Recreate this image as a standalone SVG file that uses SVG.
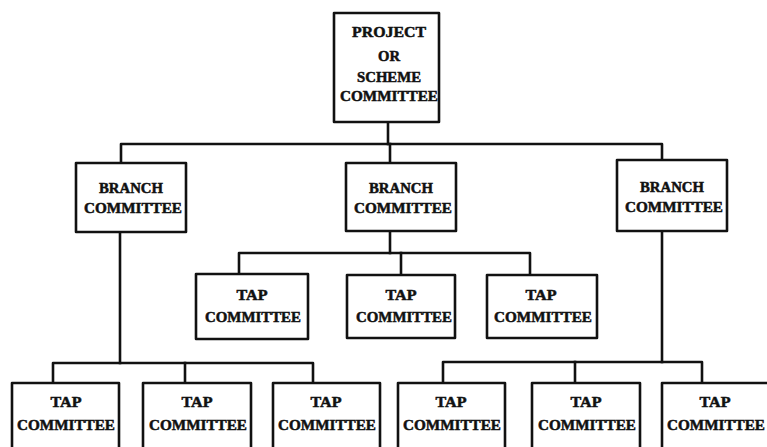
<svg xmlns="http://www.w3.org/2000/svg" width="767" height="447" viewBox="0 0 767 447">
  <style>
    .box { fill: #fff; stroke: #111; stroke-width: 2.6; stroke-linejoin: round; }
    .wire { fill: none; stroke: #111; stroke-width: 2.6; stroke-linejoin: round; stroke-linecap: square; }
    text { font-family: "Liberation Serif", "DejaVu Serif", serif; font-weight: bold; font-size: 15px; fill: #111; stroke: #111; stroke-width: 0.5; text-anchor: middle; }
  </style>
  <rect width="767" height="447" fill="#fff"/>

  <g id="connectors">
    <!-- top committee to branch level -->
    <path class="wire" d="M388 122 V144"/>
    <path class="wire" d="M121 163 V144 H662 V160"/>
    <path class="wire" d="M390 144 V163"/>
    <!-- centre branch to its tap committees -->
    <path class="wire" d="M390 231 V253"/>
    <path class="wire" d="M239 274 V253 H530 V275"/>
    <path class="wire" d="M401 253 V275"/>
    <!-- left branch to bottom-left tap committees -->
    <path class="wire" d="M120 232 V363"/>
    <path class="wire" d="M53 383 V363 H313 V383"/>
    <path class="wire" d="M185 363 V383"/>
    <!-- right branch to bottom-right tap committees -->
    <path class="wire" d="M662 231 V362"/>
    <path class="wire" d="M443 383 V362 H702 V383"/>
    <path class="wire" d="M575 362 V383"/>
  </g>

  <g id="project-committee">
    <rect class="box" x="334" y="13" width="105" height="109"/>
    <text x="389" y="37" textLength="74" lengthAdjust="spacingAndGlyphs">PROJECT</text>
    <text x="389" y="61" textLength="22" lengthAdjust="spacingAndGlyphs">OR</text>
    <text x="389" y="82" textLength="64" lengthAdjust="spacingAndGlyphs">SCHEME</text>
    <text x="389" y="101" textLength="98" lengthAdjust="spacingAndGlyphs">COMMITTEE</text>
  </g>

  <g id="branch-left">
    <rect class="box" x="76" y="163" width="110" height="69"/>
    <text x="131" y="193" textLength="64" lengthAdjust="spacingAndGlyphs">BRANCH</text>
    <text x="133" y="213" textLength="98" lengthAdjust="spacingAndGlyphs">COMMITTEE</text>
  </g>
  <g id="branch-centre">
    <rect class="box" x="346" y="163" width="110" height="68"/>
    <text x="401" y="193" textLength="64" lengthAdjust="spacingAndGlyphs">BRANCH</text>
    <text x="403" y="213" textLength="98" lengthAdjust="spacingAndGlyphs">COMMITTEE</text>
  </g>
  <g id="branch-right">
    <rect class="box" x="617" y="160" width="110" height="71"/>
    <text x="672" y="192" textLength="64" lengthAdjust="spacingAndGlyphs">BRANCH</text>
    <text x="674" y="212" textLength="98" lengthAdjust="spacingAndGlyphs">COMMITTEE</text>
  </g>

  <g id="tap-mid-1">
    <rect class="box" x="196" y="274" width="112" height="65"/>
    <text x="252" y="300" textLength="31" lengthAdjust="spacingAndGlyphs">TAP</text>
    <text x="253" y="322" textLength="96" lengthAdjust="spacingAndGlyphs">COMMITTEE</text>
  </g>
  <g id="tap-mid-2">
    <rect class="box" x="347" y="275" width="108" height="63"/>
    <text x="401" y="300" textLength="31" lengthAdjust="spacingAndGlyphs">TAP</text>
    <text x="404" y="322" textLength="96" lengthAdjust="spacingAndGlyphs">COMMITTEE</text>
  </g>
  <g id="tap-mid-3">
    <rect class="box" x="487" y="275" width="110" height="63"/>
    <text x="541" y="300" textLength="31" lengthAdjust="spacingAndGlyphs">TAP</text>
    <text x="543" y="322" textLength="98" lengthAdjust="spacingAndGlyphs">COMMITTEE</text>
  </g>

  <g id="tap-low-1">
    <rect class="box" x="12" y="383" width="107" height="80"/>
    <text x="66" y="407" textLength="31" lengthAdjust="spacingAndGlyphs">TAP</text>
    <text x="66" y="430" textLength="98" lengthAdjust="spacingAndGlyphs">COMMITTEE</text>
  </g>
  <g id="tap-low-2">
    <rect class="box" x="143" y="383" width="108" height="80"/>
    <text x="197" y="407" textLength="31" lengthAdjust="spacingAndGlyphs">TAP</text>
    <text x="198" y="430" textLength="98" lengthAdjust="spacingAndGlyphs">COMMITTEE</text>
  </g>
  <g id="tap-low-3">
    <rect class="box" x="273" y="383" width="107" height="80"/>
    <text x="326" y="407" textLength="31" lengthAdjust="spacingAndGlyphs">TAP</text>
    <text x="327" y="430" textLength="98" lengthAdjust="spacingAndGlyphs">COMMITTEE</text>
  </g>
  <g id="tap-low-4">
    <rect class="box" x="398" y="383" width="107" height="80"/>
    <text x="451" y="407" textLength="31" lengthAdjust="spacingAndGlyphs">TAP</text>
    <text x="452" y="430" textLength="98" lengthAdjust="spacingAndGlyphs">COMMITTEE</text>
  </g>
  <g id="tap-low-5">
    <rect class="box" x="532" y="383" width="108" height="80"/>
    <text x="586" y="407" textLength="31" lengthAdjust="spacingAndGlyphs">TAP</text>
    <text x="587" y="430" textLength="98" lengthAdjust="spacingAndGlyphs">COMMITTEE</text>
  </g>
  <g id="tap-low-6">
    <rect class="box" x="662" y="383" width="108" height="80"/>
    <text x="715" y="407" textLength="31" lengthAdjust="spacingAndGlyphs">TAP</text>
    <text x="716" y="430" textLength="98" lengthAdjust="spacingAndGlyphs">COMMITTEE</text>
  </g>
</svg>
